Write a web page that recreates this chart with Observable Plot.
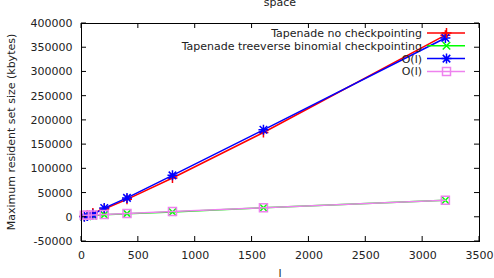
<!DOCTYPE html>
<html>
<head>
<meta charset="utf-8">
<script src="https://cdn.jsdelivr.net/npm/d3@7"></script>
<script src="https://cdn.jsdelivr.net/npm/@observablehq/plot@0.6"></script>
<style>
  html, body { margin: 0; padding: 0; background: white; }
  svg { display: block; }
</style>
</head>
<body>
<div id="chart"></div>
<script>
// ---- data ----
const lValues = [25, 50, 100, 200, 400, 800, 1600, 3200];
const noCheckpointing = [2000, 4000, 9000, 17000, 37000, 81000, 175000, 376000];
const treeverseBinomial = [1500, 2000, 3000, 5000, 7500, 11000, 19500, 35000];
const oLargeFit = [1000, 2500, 5500, 19000, 40000, 86500, 180500, 370000];
const oSmallFit = [4000, 4300, 4800, 5800, 7800, 11800, 19500, 35000];
const seriesNames = ["Tapenade no checkpointing", "Tapenade treeverse binomial checkpointing", "O(l)", "O(l)"];
const seriesColors = ["#ff0000", "#00ff00", "#0000ff", "#ee82ee"];
const xTicks = [0, 500, 1000, 1500, 2000, 2500, 3000, 3500];
const yTicks = [-50000, 0, 50000, 100000, 150000, 200000, 250000, 300000, 350000, 400000];
const titleText = "space";
const xLabel = "l";
const yLabel = "Maximum resident set size (kbytes)";

// ---- symbols ----
const rOf = size => Math.sqrt(size / Math.PI);
const plusSym = {draw(ctx, size) { const r = rOf(size); ctx.moveTo(-r, 0); ctx.lineTo(r, 0); ctx.moveTo(0, -r); ctx.lineTo(0, r); }};
const timesSym = {draw(ctx, size) { const k = rOf(size) * 0.75; ctx.moveTo(-k, -k); ctx.lineTo(k, k); ctx.moveTo(-k, k); ctx.lineTo(k, -k); }};
const starSym = {draw(ctx, size) { plusSym.draw(ctx, size); timesSym.draw(ctx, size); }};
const squareSym = {draw(ctx, size) { const k = rOf(size) * 0.8; ctx.moveTo(-k, -k); ctx.lineTo(k, -k); ctx.lineTo(k, k); ctx.lineTo(-k, k); ctx.closePath(); }};
const seriesSymbols = [plusSym, timesSym, starSym, squareSym];
const seriesValues = [noCheckpointing, treeverseBinomial, oLargeFit, oSmallFit];

const rows = [];
seriesValues.forEach((vals, s) => vals.forEach((v, i) => rows.push({s, l: lValues[i], v})));

const marks = [
  Plot.axisX(xTicks, {tickSize: 0, tickPadding: 10, label: null, tickFormat: d => String(d)}),
  Plot.axisY(yTicks, {tickSize: 0, tickPadding: 9, label: null, tickFormat: d => String(d)}),
];
seriesValues.forEach((vals, s) => {
  const data = rows.filter(d => d.s === s);
  marks.push(Plot.line(data, {x: "l", y: "v", stroke: seriesColors[s], strokeWidth: 1.5}));
  marks.push(Plot.dot(data, {x: "l", y: "v", stroke: seriesColors[s], fill: "none", strokeWidth: 1.5, r: 5, symbol: seriesSymbols[s]}));
});
marks.push(Plot.frame({stroke: "black", strokeWidth: 1}));

const plot = Plot.plot({
  width: 494, height: 278,
  marginLeft: 81, marginRight: 15, marginTop: 23, marginBottom: 37,
  x: {domain: [0, 3500], ticks: xTicks},
  y: {domain: [-50000, 400000], ticks: yTicks},
  style: {fontFamily: "DejaVu Sans", fontSize: "11px", background: "white", color: "#222"},
  marks
});
document.getElementById("chart").appendChild(plot);

// ---- inward mirror ticks, titles, legend ----
const svg = d3.select(plot);
const sx = plot.scale("x"), sy = plot.scale("y");
const x0 = sx.apply(0), x1 = sx.apply(3500), y0 = sy.apply(-50000), y1 = sy.apply(400000);
const tg = svg.append("g").attr("stroke", "black").attr("stroke-width", 1);
xTicks.forEach(t => {
  const x = sx.apply(t);
  tg.append("line").attr("x1", x).attr("x2", x).attr("y1", y0).attr("y2", y0 - 5);
  tg.append("line").attr("x1", x).attr("x2", x).attr("y1", y1).attr("y2", y1 + 5);
});
yTicks.forEach(t => {
  const y = sy.apply(t);
  tg.append("line").attr("x1", x0).attr("x2", x0 + 5).attr("y1", y).attr("y2", y);
  tg.append("line").attr("x1", x1).attr("x2", x1 - 5).attr("y1", y).attr("y2", y);
});
const font = g => g.attr("font-family", "DejaVu Sans").attr("font-size", 11).attr("fill", "#222");
svg.append("text").call(font).attr("x", (x0 + x1) / 2).attr("y", 6).attr("text-anchor", "middle").text(titleText);
svg.append("text").call(font).attr("x", (x0 + x1) / 2).attr("y", 277).attr("text-anchor", "middle").text(xLabel);
svg.append("text").call(font).attr("transform", `translate(15,${(y0 + y1) / 2}) rotate(-90)`).attr("text-anchor", "middle").text(yLabel);

const lg = svg.append("g");
seriesNames.forEach((name, s) => {
  const y = 33 + s * 12.8;
  lg.append("text").call(font).attr("x", 422).attr("y", y + 4).attr("text-anchor", "end").text(name);
  lg.append("line").attr("x1", 427).attr("x2", 465).attr("y1", y).attr("y2", y).attr("stroke", seriesColors[s]).attr("stroke-width", 1.5);
  const p = d3.path(); seriesSymbols[s].draw(p, 25 * Math.PI);
  lg.append("path").attr("d", p.toString()).attr("transform", `translate(446.5,${y})`).attr("fill", "none").attr("stroke", seriesColors[s]).attr("stroke-width", 1.5);
});
</script>
</body>
</html>
